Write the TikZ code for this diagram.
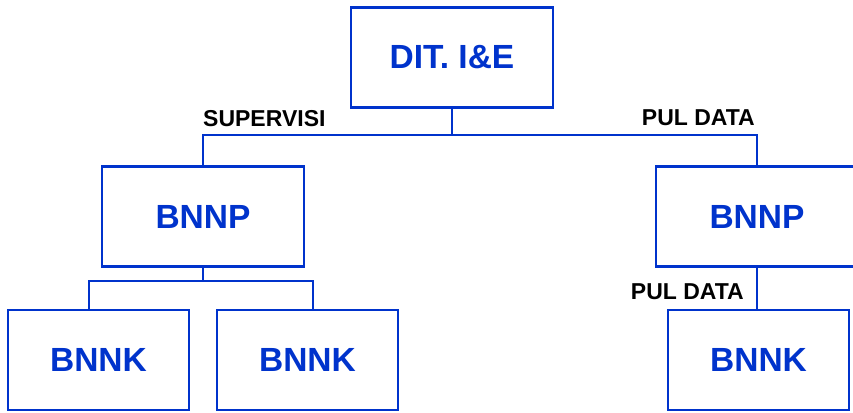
\documentclass[tikz,border=0pt]{standalone}
\usepackage{fontspec}
\setmainfont{Liberation Sans}
\definecolor{orgblue}{RGB}{0,51,204}
\tikzset{
  unit/.style={draw=orgblue, line width=2.2pt, text=orgblue, inner sep=0pt,
    font=\fontsize{33.5}{40}\selectfont\bfseries},
  wide/.style={unit, minimum width=202pt, minimum height=100pt},
  narrow/.style={unit, minimum width=181pt, minimum height=100pt},
  linklabel/.style={inner sep=0pt, font=\fontsize{23}{27}\selectfont\bfseries},
  link/.style={draw=orgblue, line width=2.2pt}
}
\begin{document}
\begin{tikzpicture}[x=1pt,y=-1pt]
  \clip (0,0) rectangle (853,412);
  % boxes
  \node[wide] (dit) at (452,57.5) {DIT. I\&E};
  \node[wide] (bnnpL) at (203,216.5) {BNNP};
  \node[wide] (bnnpR) at (757,216.5) {BNNP};
  \node[narrow] (bnnkA) at (98.5,360) {BNNK};
  \node[narrow] (bnnkB) at (307.5,360) {BNNK};
  \node[narrow] (bnnkC) at (758.5,360) {BNNK};
  % connectors
  \coordinate (busT) at (452,135);
  \coordinate (forkL) at (203,281);
  \draw[link] (dit.south) -- (busT);
  \draw[link] (bnnpL.north) |- (busT) -| (bnnpR.north);
  \draw[link] (bnnpL.south) -- (forkL);
  \draw[link] ([xshift=-9.5pt]bnnkA.north) |- (forkL) -| ([xshift=5.5pt]bnnkB.north);
  \draw[link] (bnnpR.south) -- (bnnpR.south |- bnnkC.north);
  % labels
  \node[linklabel, anchor=base west] (supv) at (203,126) {SUPERVISI};
  \node[linklabel, anchor=base east] (pulT) at (755,125) {PUL DATA};
  \node[linklabel, anchor=base east] (pulB) at (744,299) {PUL DATA};
\end{tikzpicture}
\end{document}
